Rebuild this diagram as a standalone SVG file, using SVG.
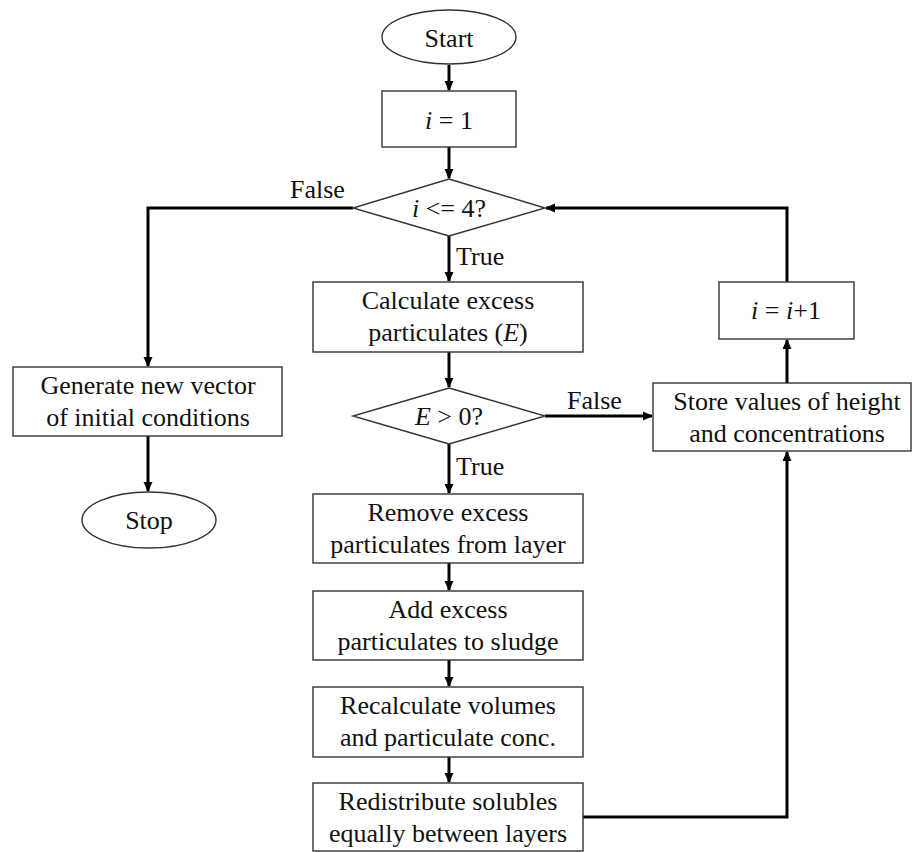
<svg xmlns="http://www.w3.org/2000/svg" width="912" height="852" viewBox="0 0 912 852">
<style>
.n{fill:#fff;stroke:#333;stroke-width:1.4}
.t{font-family:"Liberation Serif","Times New Roman",serif;font-size:26px;fill:#111;text-anchor:middle}
.l{font-family:"Liberation Serif","Times New Roman",serif;font-size:26px;fill:#111}
.c{fill:none;stroke:#000;stroke-width:3}
</style>
<defs>
<marker id="a" markerWidth="10" markerHeight="10" refX="9" refY="5" orient="auto" markerUnits="userSpaceOnUse">
<path d="M0,0.5 L10,5 L0,9.5 Z" fill="#000"/>
</marker>
</defs>
<g id="connectors">
<path class="c" d="M449,65 V90" marker-end="url(#a)"/>
<path class="c" d="M449,147 V178" marker-end="url(#a)"/>
<path class="c" d="M449,236 V281" marker-end="url(#a)"/>
<path class="c" d="M449,352 V387" marker-end="url(#a)"/>
<path class="c" d="M449,444 V493" marker-end="url(#a)"/>
<path class="c" d="M449,563 V590" marker-end="url(#a)"/>
<path class="c" d="M449,660 V686" marker-end="url(#a)"/>
<path class="c" d="M449,757 V782" marker-end="url(#a)"/>
<path class="c" d="M583,817 H787 V452" marker-end="url(#a)"/>
<path class="c" d="M545,416 H652" marker-end="url(#a)"/>
<path class="c" d="M787,383 V340" marker-end="url(#a)"/>
<path class="c" d="M787,282 V208 H546" marker-end="url(#a)"/>
<path class="c" d="M353,208 H148 V366" marker-end="url(#a)"/>
<path class="c" d="M148,436 V491" marker-end="url(#a)"/>
<text class="l" x="290" y="198">False</text>
<text class="l" x="456" y="265">True</text>
<text class="l" x="567" y="409">False</text>
<text class="l" x="456" y="475">True</text>
</g>
<g id="start">
<ellipse class="n" cx="449" cy="37" rx="67" ry="27"/>
<text class="t" x="449" y="47">Start</text>
</g>
<g id="init">
<rect class="n" x="382" y="91" width="134" height="56"/>
<text class="t" x="449" y="129"><tspan font-style="italic">i</tspan> = 1</text>
</g>
<g id="cond1">
<polygon class="n" points="449,179 545,208 449,236 353,208"/>
<text class="t" x="449" y="217"><tspan font-style="italic">i</tspan> &lt;= 4?</text>
</g>
<g id="calc">
<rect class="n" x="313" y="282" width="270" height="70"/>
<text class="t" x="448" y="309">Calculate excess</text>
<text class="t" x="448" y="341">particulates (<tspan font-style="italic">E</tspan>)</text>
</g>
<g id="cond2">
<polygon class="n" points="449,388 545,416 449,444 353,416"/>
<text class="t" x="449" y="425"><tspan font-style="italic">E</tspan> &gt; 0?</text>
</g>
<g id="remove">
<rect class="n" x="313" y="494" width="270" height="69"/>
<text class="t" x="448" y="521">Remove excess</text>
<text class="t" x="448" y="553">particulates from layer</text>
</g>
<g id="add">
<rect class="n" x="313" y="591" width="270" height="69"/>
<text class="t" x="448" y="618">Add excess</text>
<text class="t" x="448" y="650">particulates to sludge</text>
</g>
<g id="recalc">
<rect class="n" x="313" y="687" width="270" height="70"/>
<text class="t" x="448" y="714">Recalculate volumes</text>
<text class="t" x="448" y="746">and particulate conc.</text>
</g>
<g id="redistribute">
<rect class="n" x="313" y="783" width="270" height="68"/>
<text class="t" x="448" y="810">Redistribute solubles</text>
<text class="t" x="448" y="842">equally between layers</text>
</g>
<g id="store">
<rect class="n" x="653" y="383" width="258" height="68"/>
<text class="t" x="787" y="410">Store values of height</text>
<text class="t" x="787" y="442">and concentrations</text>
</g>
<g id="incr">
<rect class="n" x="719" y="282" width="135" height="57"/>
<text class="t" x="786" y="319"><tspan font-style="italic">i</tspan> = <tspan font-style="italic">i</tspan>+1</text>
</g>
<g id="generate">
<rect class="n" x="13" y="367" width="269" height="69"/>
<text class="t" x="148" y="394">Generate new vector</text>
<text class="t" x="148" y="426">of initial conditions</text>
</g>
<g id="stop">
<ellipse class="n" cx="149" cy="520" rx="67" ry="28"/>
<text class="t" x="149" y="529">Stop</text>
</g>
</svg>
